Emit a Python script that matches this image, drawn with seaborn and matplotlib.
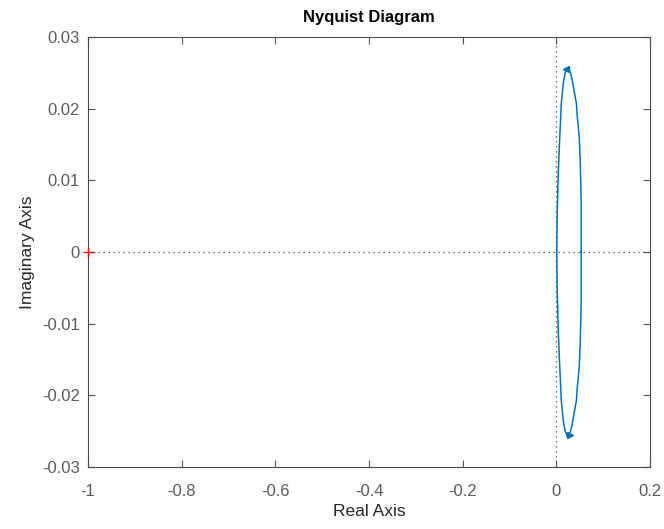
import matplotlib
matplotlib.use("Agg")
import matplotlib.pyplot as plt
import seaborn as sns
import pandas as pd

# Nyquist curve (counter-clockwise loop)
re_vals = [0.053, 0.053, 0.051, 0.049, 0.0449, 0.0427, 0.0385, 0.034, 0.030, 0.0235,
           0.019, 0.015, 0.0128, 0.0107, 0.0085, 0.0064, 0.0043, 0.002, 0.001,
           0.002, 0.0043, 0.0064, 0.0085, 0.0107, 0.0128, 0.015, 0.019, 0.0235,
           0.030, 0.034, 0.0385, 0.0427, 0.0449, 0.049, 0.051, 0.053, 0.053]
im_vals = [0.0, 0.0073, 0.0128, 0.016, 0.0188, 0.0208, 0.0223, 0.0240, 0.0251, 0.0257,
           0.0250, 0.0236, 0.0222, 0.0208, 0.0177, 0.0147, 0.0114, 0.0059, 0.0,
           -0.0059, -0.0114, -0.0147, -0.0177, -0.0208, -0.0222, -0.0236, -0.0250, -0.0257,
           -0.0251, -0.0240, -0.0223, -0.0208, -0.0188, -0.016, -0.0128, -0.0073, 0.0]
arrow_re = [0.021, 0.029]
arrow_im = [0.0256, -0.0256]
arrow_dir = ["<", ">"]
critical_point = (-1.0, 0.0)

x_ticks = [-1, -0.8, -0.6, -0.4, -0.2, 0, 0.2]
x_ticklabels = ["-1", "-0.8", "-0.6", "-0.4", "-0.2", "0", "0.2"]
y_ticks = [-0.03, -0.02, -0.01, 0, 0.01, 0.02, 0.03]
y_ticklabels = ["-0.03", "-0.02", "-0.01", "0", "0.01", "0.02", "0.03"]

sns.set_style("ticks")
plt.rcParams["font.family"] = ["Liberation Sans", "DejaVu Sans"]
plt.rcParams["axes.unicode_minus"] = False

blue = "#0072BD"
df = pd.DataFrame({"Real": re_vals, "Imag": im_vals, "order": range(len(re_vals))})

fig = plt.figure(figsize=(6.64, 5.29), dpi=100)
ax = fig.add_axes([88 / 664, 1 - 467 / 529, (650 - 88) / 664, (467 - 37) / 529])

ax.axhline(0, color="#404040", linestyle=(0, (1, 3)), linewidth=0.9, zorder=1)
ax.axvline(0, color="#404040", linestyle=(0, (1, 3)), linewidth=0.9, zorder=1)

sns.lineplot(data=df, x="Real", y="Imag", sort=False, estimator=None,
             color=blue, linewidth=1.1, ax=ax, zorder=3)
for xr, yi, m in zip(arrow_re, arrow_im, arrow_dir):
    ax.plot([xr], [yi], marker=m, color=blue, markersize=5, zorder=4)

ax.plot([critical_point[0]], [critical_point[1]], marker="+", color="red",
        markersize=7, markeredgewidth=1.0, clip_on=False, zorder=5)

ax.set_xlim(-1, 0.2)
ax.set_ylim(-0.03, 0.03)
ax.set_xticks(x_ticks)
ax.set_xticklabels(x_ticklabels)
ax.set_yticks(y_ticks)
ax.set_yticklabels(y_ticklabels)

ax.tick_params(direction="in", top=True, right=True, length=5, width=0.8,
               colors="#555555", labelcolor="#5a5a5a", labelsize=12)
ax.tick_params(axis="x", pad=12)
ax.tick_params(axis="y", pad=6)
for s in ax.spines.values():
    s.set_color("#4a4a4a")
    s.set_linewidth(0.8)

ax.set_xlabel("Real Axis", fontsize=12.5, color="#262626", labelpad=4)
ax.set_ylabel("Imaginary Axis", fontsize=12.5, color="#262626", labelpad=5)
ax.set_title("Nyquist Diagram", fontsize=12, fontweight="bold", color="black", pad=11)

fig.savefig("out.png", dpi=100)
